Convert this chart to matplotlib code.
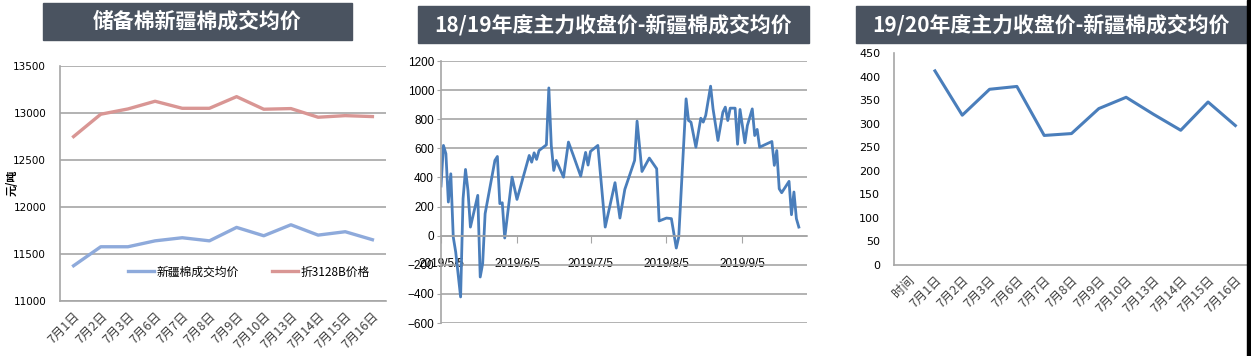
import numpy as np
import pandas as pd
import matplotlib
matplotlib.use("Agg")
import matplotlib.pyplot as plt
from matplotlib.patches import Rectangle

plt.rcParams['font.family'] = ['Noto Sans CJK SC', 'DejaVu Sans']

# 储备棉新疆棉成交均价
days_left = ['7月1日', '7月2日', '7月3日', '7月6日', '7月7日', '7月8日', '7月9日',
             '7月10日', '7月13日', '7月14日', '7月15日', '7月16日']
xj_price = [11375, 11577, 11577, 11640, 11673, 11640, 11783, 11694, 11811, 11701, 11737, 11652]
zhe_3128b = [12749, 12987, 13043, 13125, 13050, 13050, 13174, 13040, 13047, 12955, 12972, 12962]

# 18/19年度主力收盘价-新疆棉成交均价
spread_dates = ['2019-05-05', '2019-05-06', '2019-05-07', '2019-05-08', '2019-05-09', '2019-05-10',
                '2019-05-11', '2019-05-13', '2019-05-14', '2019-05-15', '2019-05-16', '2019-05-17',
                '2019-05-20', '2019-05-21', '2019-05-22', '2019-05-23', '2019-05-27', '2019-05-28',
                '2019-05-29', '2019-05-30', '2019-05-31', '2019-06-03', '2019-06-05', '2019-06-10',
                '2019-06-11', '2019-06-12', '2019-06-13', '2019-06-14', '2019-06-17', '2019-06-18',
                '2019-06-19', '2019-06-20', '2019-06-21', '2019-06-24', '2019-06-26', '2019-06-28',
                '2019-07-01', '2019-07-03', '2019-07-04', '2019-07-05', '2019-07-08', '2019-07-11',
                '2019-07-15', '2019-07-17', '2019-07-19', '2019-07-23', '2019-07-24', '2019-07-26',
                '2019-07-29', '2019-08-01', '2019-08-02', '2019-08-05', '2019-08-07', '2019-08-09',
                '2019-08-10', '2019-08-13', '2019-08-14', '2019-08-15', '2019-08-17', '2019-08-19',
                '2019-08-20', '2019-08-21', '2019-08-23', '2019-08-24', '2019-08-26', '2019-08-28',
                '2019-08-29', '2019-08-30', '2019-08-31', '2019-09-02', '2019-09-03', '2019-09-04',
                '2019-09-06', '2019-09-07', '2019-09-09', '2019-09-10', '2019-09-11', '2019-09-12',
                '2019-09-17', '2019-09-18', '2019-09-19', '2019-09-20', '2019-09-21', '2019-09-24',
                '2019-09-25', '2019-09-26', '2019-09-27', '2019-09-28']
spread_1819 = [341, 620, 563, 231, 425, -9, -112, -421, 254, 455, 311, 59,
               277, -284, -192, 151, 517, 544, 220, 226, -16, 402, 249, 551,
               505, 569, 524, 585, 624, 1015, 620, 448, 517, 402, 643, 551,
               409, 572, 485, 579, 620, 59, 364, 121, 318, 517, 787, 441,
               533, 460, 101, 121, 117, -85, -9, 940, 791, 780, 608, 807,
               780, 826, 1027, 871, 654, 848, 883, 791, 876, 876, 628, 867,
               638, 757, 871, 688, 730, 608, 647, 483, 585, 322, 295, 373,
               144, 300, 117, 59]
tick_dates = ['2019-05-05', '2019-06-05', '2019-07-05', '2019-08-05', '2019-09-05']
tick_labels = ['2019/5/5', '2019/6/5', '2019/7/5', '2019/8/5', '2019/9/5']

# 19/20年度主力收盘价-新疆棉成交均价
days_right = ['时间', '7月1日', '7月2日', '7月3日', '7月6日', '7月7日', '7月8日', '7月9日',
              '7月10日', '7月13日', '7月14日', '7月15日', '7月16日']
spread_1920 = [np.nan, 412, 318, 373, 379, 275, 279, 332, 356, 320, 286, 346, 296]

W, H = 1251, 356
fig = plt.figure(figsize=(W / 100, H / 100), dpi=100)
fig.patch.set_facecolor('white')

banner_col = '#4a5360'
grid_col = '#a6a6a6'
line_blue = '#4a7ebb'


def px_axes(l, t, r, b):
    return fig.add_axes([l / W, 1 - b / H, (r - l) / W, (b - t) / H])


def banner(l, t, r, b, text):
    fig.patches.append(Rectangle((l / W, 1 - b / H), (r - l) / W, (b - t) / H,
                                 transform=fig.transFigure, color=banner_col, zorder=0))
    fig.text((l + r) / 2 / W, 1 - (t + b) / 2 / H, text, color='white', fontsize=15,
             fontweight='bold', ha='center', va='center')


def style_spines(ax):
    for s in ['top', 'right']:
        ax.spines[s].set_visible(False)
    for s in ['left', 'bottom']:
        ax.spines[s].set_color(grid_col)
        ax.spines[s].set_linewidth(1.2)


# ---- left panel
banner(43, 3, 352, 40, '储备棉新疆棉成交均价')
ax1 = px_axes(60, 66, 386, 301)
x1 = np.arange(len(days_left))
ax1.plot(x1, xj_price, color='#8eaadb', lw=2.4, label='新疆棉成交均价')
ax1.plot(x1, zhe_3128b, color='#d99694', lw=2.4, label='折3128B价格')
ax1.set_xlim(-0.5, len(days_left) - 0.5)
ax1.set_ylim(11000, 13500)
ax1.set_yticks(np.arange(11000, 13501, 500))
ax1.yaxis.grid(True, color=grid_col, lw=1.2)
ax1.set_axisbelow(True)
style_spines(ax1)
ax1.set_xticks(x1)
ax1.set_xticklabels(days_left, rotation=45, ha='right', rotation_mode='anchor',
                    fontsize=9, color='#404040')
ax1.tick_params(axis='x', length=0, pad=6)
ax1.tick_params(axis='y', length=0, pad=10, labelsize=7.5)
for t in ax1.get_yticklabels():
    t.set_family('DejaVu Sans')
ax1.legend(loc='center', bbox_to_anchor=(0.58, 0.123), ncol=2, frameon=False,
           fontsize=8.5, handlelength=2.2, handletextpad=0.2, columnspacing=2.8)
fig.text(12 / W, 1 - 183 / H, '元/吨', rotation=90, ha='center', va='center',
         fontsize=8, fontweight='bold')

# ---- middle panel
banner(418, 6, 809, 43, '18/19年度主力收盘价-新疆棉成交均价')
ax2 = px_axes(441, 61, 807, 323)
d2 = pd.to_datetime(spread_dates)
ax2.plot(d2, spread_1819, color=line_blue, lw=2.0)
ax2.set_xlim(pd.Timestamp('2019-05-05'), pd.Timestamp('2019-10-01 08:00'))
ax2.set_ylim(-600, 1200)
ax2.set_yticks(np.arange(-600, 1201, 200))
ax2.yaxis.grid(True, color=grid_col, lw=1.2)
ax2.set_axisbelow(True)
style_spines(ax2)
ax2.spines['bottom'].set_position(('data', 0))
ax2.set_xticks(pd.to_datetime(tick_dates))
ax2.set_xticklabels(tick_labels)
ax2.tick_params(axis='x', length=5, color=grid_col, pad=11, labelsize=8.5)
ax2.tick_params(axis='y', length=3, color=grid_col, pad=2, labelsize=8.5)
for t in ax2.get_xticklabels() + ax2.get_yticklabels():
    t.set_family(['Liberation Sans Narrow', 'Liberation Sans'])

# ---- right panel
banner(856, 6, 1247, 43, '19/20年度主力收盘价-新疆棉成交均价')
ax3 = px_axes(894, 53, 1249, 265)
x3 = np.arange(len(days_right))
ax3.plot(x3, spread_1920, color=line_blue, lw=2.2)
ax3.set_xlim(-0.5, len(days_right) - 0.5)
ax3.set_ylim(0, 450)
ax3.set_yticks(np.arange(0, 451, 50))
style_spines(ax3)
ax3.set_xticks(x3)
ax3.set_xticklabels(days_right, rotation=45, ha='right', rotation_mode='anchor',
                    fontsize=9, color='#404040')
ax3.tick_params(axis='x', length=0, pad=6)
ax3.tick_params(axis='y', length=0, pad=10, labelsize=8)
for t in ax3.get_yticklabels():
    t.set_family('DejaVu Sans')

fig.patches.append(Rectangle((1247 / W, 0), 4 / W, 1, transform=fig.transFigure,
                             color='black', zorder=5))

fig.savefig('out.png', dpi=100)
